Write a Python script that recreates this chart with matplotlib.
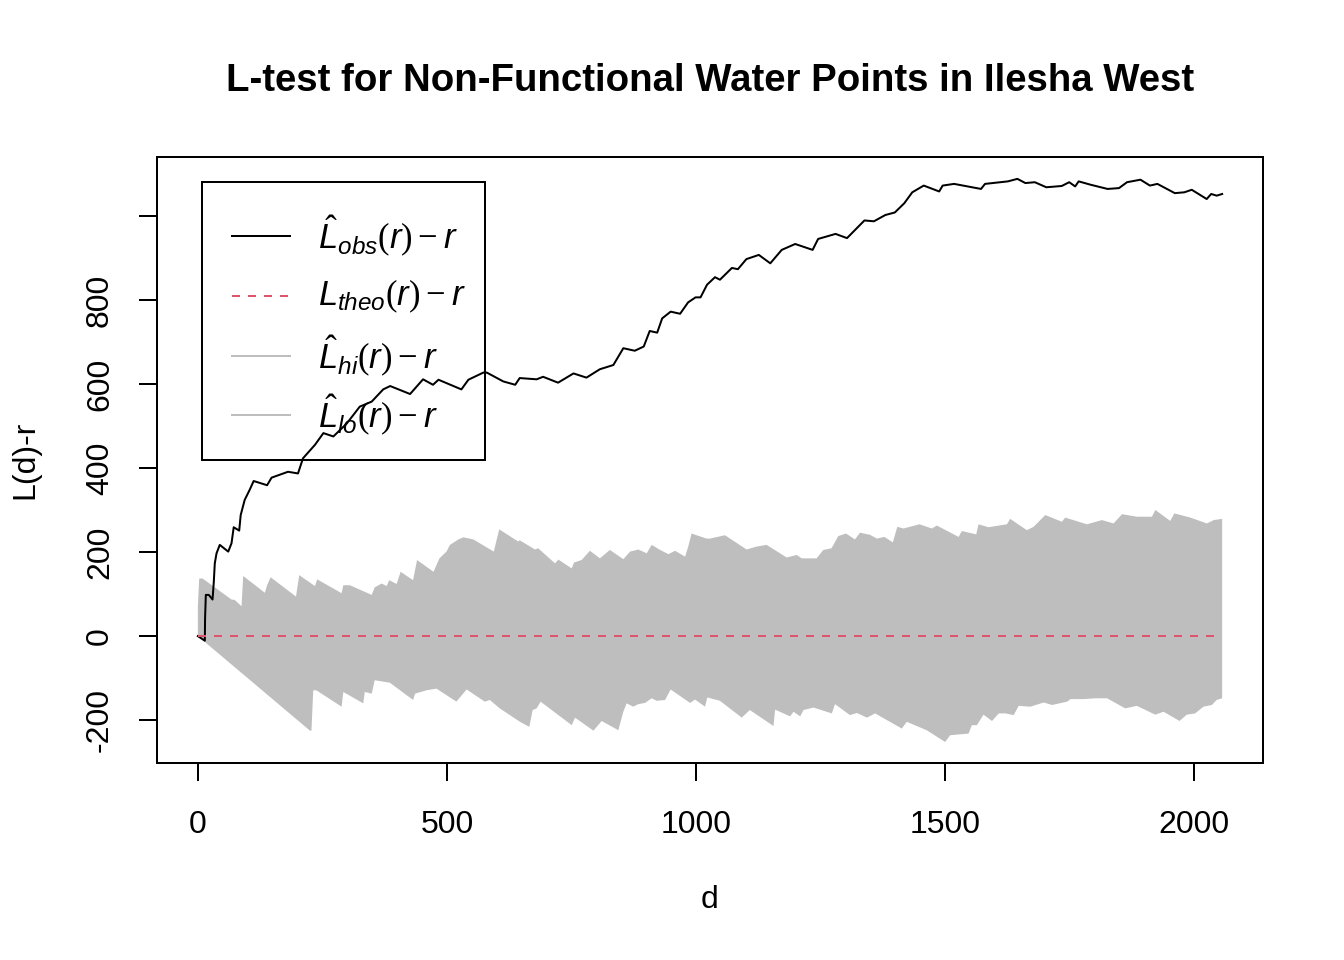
import matplotlib
matplotlib.use("Agg")
import matplotlib.pyplot as plt
import numpy as np
from matplotlib.lines import Line2D
from matplotlib.patches import Rectangle

plt.rcParams['font.family'] = ['Liberation Sans', 'DejaVu Sans']
plt.rcParams['mathtext.fontset'] = 'custom'
plt.rcParams['mathtext.rm'] = 'Liberation Serif'
plt.rcParams['mathtext.it'] = 'Liberation Sans:italic'

obs_d = [0, 14, 14.5, 16, 22, 29.5, 32, 34, 37.5, 44, 61, 67.6, 72, 83, 86, 94,
         104, 112, 139, 148, 181, 201, 211, 235, 252, 272, 299, 325, 349, 372,
         386, 426, 452, 472, 483, 529, 543, 573, 580, 613, 637, 646, 680, 693,
         723, 754, 780, 807, 834, 854, 877, 895, 907, 922, 932, 949, 968, 984,
         999, 1009, 1022, 1038, 1048, 1072, 1084, 1101, 1126, 1149, 1172, 1199,
         1234, 1245, 1280, 1303, 1338, 1357, 1380, 1399, 1418, 1434, 1457, 1488,
         1495, 1518, 1572, 1580, 1626, 1645, 1661, 1680, 1703, 1734, 1749, 1761,
         1768, 1792, 1826, 1849, 1865, 1892, 1911, 1926, 1961, 1980, 1995, 2025,
         2034, 2045, 2056]
obs_v = [0, -11, 42, 98, 98, 87, 129, 173, 197, 217, 201, 221, 259, 251, 288, 324,
         348, 369, 359, 377, 391, 387, 423, 455, 483, 475, 506, 546, 558, 587,
         595, 576, 611, 598, 610, 587, 610, 627, 627, 606, 598, 614, 611, 617,
         603, 625, 615, 635, 645, 685, 679, 689, 726, 722, 756, 772, 767, 794,
         806, 806, 836, 854, 848, 876, 873, 897, 907, 887, 919, 933,
         919, 945, 957, 947, 989, 987, 1002, 1008, 1030, 1056, 1072, 1058,
         1072, 1076, 1064, 1076, 1082, 1088, 1078, 1080, 1068, 1071, 1080, 1070,
         1082, 1074, 1064, 1066, 1080, 1086, 1072, 1076, 1054, 1056, 1062, 1040,
         1052, 1048, 1052]

# upper envelope (hi)
hi_d = [0, 0, 2.7, 9.4, 67.6, 74, 87.7, 91, 134.5, 139, 146, 197, 203.5, 235,
        239.6, 288.5, 292, 305, 349, 355, 369, 379, 384, 399, 407, 432, 440,
        473, 485, 499, 506, 523, 533, 553, 594, 605, 643, 646, 676.7, 683, 717,
        723.7, 750.5, 755, 770.4, 787, 807, 827, 854, 867.5, 884, 901, 911,
        927.8, 944.5, 958, 978, 984.6, 991, 1021, 1028, 1058, 1101.5, 1121.6,
        1141.7, 1181.8, 1202, 1212, 1242, 1255.5, 1272, 1285.5, 1301, 1319,
        1329, 1349, 1363, 1378, 1395, 1404, 1416.4, 1448.6, 1473.3, 1483.4,
        1527, 1533.6, 1562.4, 1567, 1587, 1624, 1630.5, 1664, 1677.5, 1701,
        1734.3, 1741, 1784.6, 1814.8, 1838, 1855, 1885, 1915, 1922, 1951.8,
        1960, 1992, 2025.5, 2039, 2056]
hi_v = [0, 70, 137, 137, 87, 86, 71, 143, 103, 121, 140, 94, 145, 119,
        135, 102, 121, 121, 98, 116, 125, 119, 133, 124, 153, 133, 181,
        153, 185, 201, 217, 230, 235, 230, 201, 254, 225, 228, 206, 209, 173,
        182, 161, 175, 181, 203, 185, 205, 183, 201, 206, 197, 217,
        205, 195, 203, 189, 214, 244, 232, 232, 240, 206, 213,
        217, 187, 193, 185, 185, 205, 209, 238, 244, 230,
        246, 241, 232, 236, 223, 260, 256, 266, 256, 263,
        236, 250, 242, 266, 259, 266, 279, 252, 260, 288,
        272, 282, 266, 276, 268, 290, 284, 284, 300, 274,
        292, 282, 268, 276, 279]

# lower envelope (lo)
lo_d = [0, 225, 228, 231.6, 238, 288.5, 292, 332, 335, 349, 355, 385.5, 432,
        436, 459, 479, 519, 539.5, 576, 586, 606, 646.6, 665.3, 672, 680, 688,
        750.5, 757, 794, 802, 810.6, 844, 854, 860.7, 874, 884, 897.6, 911,
        921, 937.8, 949, 988, 998, 1018, 1022.6, 1048, 1091.7, 1108, 1155.4,
        1158.7, 1188.8, 1195.6, 1209, 1215.7, 1235.7, 1272.5, 1279, 1309, 1323,
        1343, 1359.5, 1413, 1423, 1463, 1500, 1510, 1527, 1547, 1553.6, 1563.7,
        1577, 1594, 1607.6, 1621, 1637.6, 1647.6, 1671, 1698, 1714.7, 1744.8,
        1751.5, 1778, 1801.6, 1825, 1861.4, 1885, 1921.7, 1938.4, 1970.5, 1985,
        2001.8, 2018.5, 2035.3, 2045, 2056]
lo_v = [0, -225, -225, -129, -129, -168, -133, -160, -133, -137, -105, -111, -152,
        -137, -129, -125, -156, -127, -156, -152, -172, -204, -216, -176, -172, -156,
        -212, -194, -225, -214, -202, -224, -180, -160, -168, -162, -159, -148,
        -154, -152, -127, -159, -151, -168, -146, -154, -194, -176, -214,
        -175, -191, -180, -191, -176, -170, -184, -162, -188, -183,
        -194, -184, -220, -204, -224, -252, -236, -234, -232, -212, -212,
        -187, -202, -184, -184, -188, -166, -168, -158, -164, -156,
        -150, -150, -148, -148, -172, -166, -187, -180, -202, -187,
        -184, -168, -164, -152, -148]

r_max = 2056
grey = '#BEBEBE'
red = '#DF536B'

legend_labels = [r'$\hat{L}_{obs}(r)-r$', r'$L_{theo}(r)-r$',
                 r'$\hat{L}_{hi}(r)-r$', r'$\hat{L}_{lo}(r)-r$']
legend_colors = ['black', red, grey, grey]
legend_dashed = [False, True, False, False]

W, H = 1344, 960


def fx(px):
    return px / W


def fy(py):
    return 1 - py / H


fig = plt.figure(figsize=(7, 5), dpi=192)
ax = fig.add_axes([fx(157), fy(763), (1263 - 157) / W, (763 - 157) / H])

ax.fill(np.r_[hi_d, lo_d[::-1]], np.r_[hi_v, lo_v[::-1]], color=grey, lw=0, zorder=1)
ax.plot(obs_d, obs_v, color='black', lw=0.75, zorder=3)
ax.plot([0, r_max], [0, 0], color=red, lw=0.75, dashes=(4, 4), zorder=3)

ax.set_xlim(-82, 2138)
ax.set_ylim(-302, 1140)
ax.set_xticks([0, 500, 1000, 1500, 2000])
ax.set_yticks([-200, 0, 200, 400, 600, 800, 1000])
ax.set_yticklabels(['-200', '0', '200', '400', '600', '800', ''])
for s in ax.spines.values():
    s.set_linewidth(0.75)
ax.tick_params(axis='both', direction='out', length=6.75, width=0.75, labelsize=12)
ax.tick_params(axis='x', pad=11)
ax.tick_params(axis='y', pad=9)
for lab in ax.get_yticklabels():
    lab.set_rotation(90)
    lab.set_va('center')

fig.text(fx(710), fy(81), 'L-test for Non-Functional Water Points in Ilesha West',
         ha='center', va='center', fontsize=14.4, fontweight='bold')
fig.text(fx(710), fy(900), 'd', ha='center', va='center', fontsize=12)
fig.text(fx(25), fy(460), 'L(d)-r', ha='center', va='center', fontsize=12,
         rotation=90)

# legend box drawn by hand (transparent, like R's legend)
fig.add_artist(Rectangle((fx(202), fy(460)), (485 - 202) / W, (460 - 182) / H,
                         transform=fig.transFigure, fill=False,
                         edgecolor='black', lw=0.75, zorder=2))
row_y = [236, 296, 356, 415]
for yy, lab, col, dashed in zip(row_y, legend_labels, legend_colors, legend_dashed):
    ln = Line2D([fx(232), fx(290)], [fy(yy), fy(yy)], transform=fig.transFigure,
                color=col, lw=0.75, zorder=2)
    if dashed:
        ln.set_dashes((4, 4))
    fig.add_artist(ln)
    fig.text(fx(318), fy(yy), lab, ha='left', va='center', fontsize=13, zorder=2)

fig.savefig('out.png', dpi=192)
